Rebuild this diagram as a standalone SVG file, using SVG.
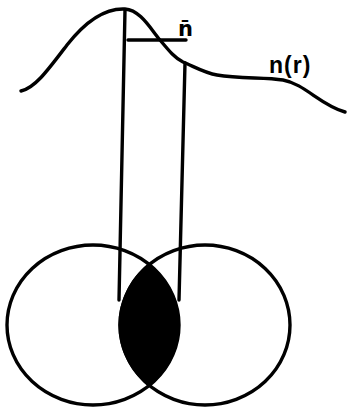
<svg xmlns="http://www.w3.org/2000/svg" width="347" height="408" viewBox="0 0 347 408">
<style>
.ln{fill:none;stroke:#000;stroke-width:3.4;stroke-linecap:round;stroke-linejoin:round}
.lb{font-family:"Liberation Sans",Arial,sans-serif;font-weight:bold;font-size:23px;fill:#000}
.nb{font-family:"DejaVu Sans",sans-serif;font-weight:bold;font-size:21px;fill:#000}
</style>
<rect width="347" height="408" fill="#fff"/>
<g id="connectors">
<path class="ln" d="M21,91 C35,88 48,70 67,45 C85,22 105,8 125,9 C140,10 150,28 160,40 C170,52 175,58 183,62 C195,67 205,73 217,75 C240,79 265,77 283,80 C305,84 320,105 345,112"/>
<path class="ln" d="M125,10 L119,300"/>
<path class="ln" d="M128,40 L186,40"/>
<path class="ln" d="M185,63 L179,300"/>
</g>
<g id="node-lens">
<path d="M149,264.3 A85,80 0 0 0 149,385.7 A86,80 0 0 0 149,264.3 Z" fill="#000" stroke="#000" stroke-width="2"/>
</g>
<g id="node-left-circle">
<ellipse class="ln" cx="93" cy="325" rx="86" ry="80"/>
</g>
<g id="node-right-circle">
<ellipse class="ln" cx="205" cy="325" rx="85" ry="80"/>
</g>
<g id="node-nbar">
<text class="nb" x="178" y="36">n̄</text>
</g>
<g id="node-nr">
<text class="lb" x="269" y="73" letter-spacing="1">n(r)</text>
</g>
</svg>
